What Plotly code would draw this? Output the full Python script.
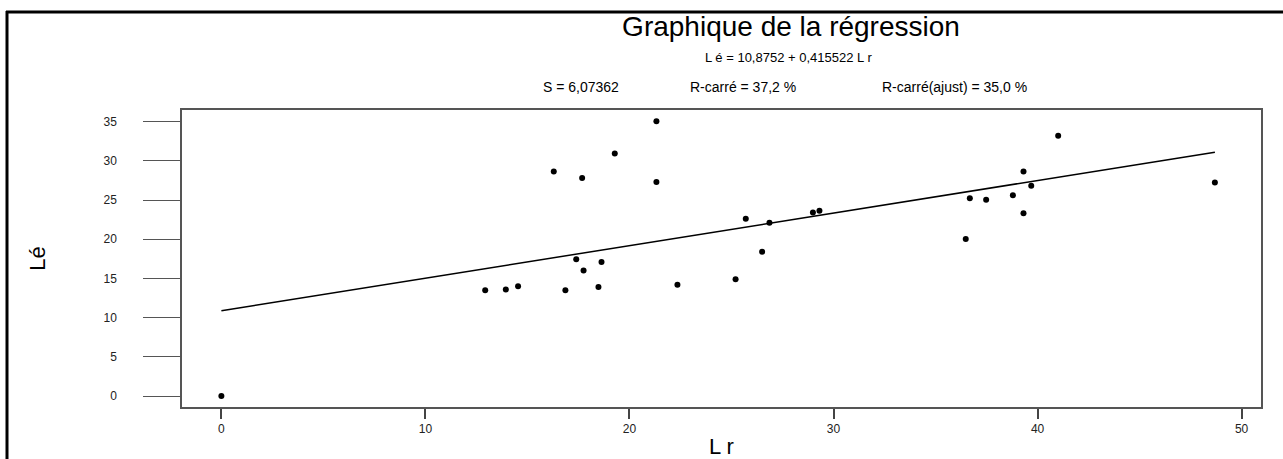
import plotly.graph_objects as go

# ---- data ----
L_r = [0, 12.93, 13.94, 14.54, 16.29, 17.68, 19.28, 21.32, 21.32, 17.39,
       18.63, 17.75, 16.86, 18.48, 22.35, 25.20, 25.70, 26.86, 26.50, 28.99,
       29.31, 41.01, 39.31, 39.69, 48.69, 36.68, 37.48, 38.79, 39.31, 36.48]
L_e = [0, 13.49, 13.60, 14.00, 28.64, 27.83, 30.93, 35.04, 27.32, 17.44,
       17.10, 16.00, 13.49, 13.91, 14.21, 14.89, 22.61, 22.10, 18.41, 23.42,
       23.63, 33.22, 28.64, 26.82, 27.24, 25.24, 25.03, 25.62, 23.33, 20.02]
intercept = 10.8752
slope = 0.415522
x_ticks = [0, 10, 20, 30, 40, 50]
y_ticks = [0, 5, 10, 15, 20, 25, 30, 35]

title = "Graphique de la régression"
equation = "L é = 10,8752 + 0,415522 L r"
stats = ["S = 6,07362", "R-carré = 37,2 %", "R-carré(ajust) = 35,0 %"]

# ---- layout geometry (pixels) ----
W, H = 1283, 459
PL, PR, PT, PB = 182, 1261, 110, 407
FONT = "Liberation Sans, Arial, sans-serif"


def px(xp):
    return (xp - PL) / (PR - PL)


def py(yp):
    return (PB - yp) / (PB - PT)


line_x = [min(L_r), max(L_r)]
line_y = [intercept + slope * v for v in line_x]

fig = go.Figure()
fig.add_trace(go.Scatter(x=line_x, y=line_y, mode="lines",
                         line=dict(color="black", width=1.5), hoverinfo="skip"))
fig.add_trace(go.Scatter(x=L_r, y=L_e, mode="markers",
                         marker=dict(color="black", size=6)))

fig.update_layout(
    width=W, height=H, showlegend=False,
    plot_bgcolor="white", paper_bgcolor="white",
    margin=dict(l=PL, r=W - PR, t=PT, b=H - PB, autoexpand=False),
    font=dict(family=FONT, color="black"),
    title=dict(text=title, x=791 / W, xanchor="center", xref="container",
               y=1 - 26 / H, yanchor="middle", yref="container",
               automargin=False,
               font=dict(size=28, family=FONT, color="black")),
)

fig.update_xaxes(range=[-1.93, 50.95], tickvals=x_ticks, ticks="outside",
                 ticklen=10, tickcolor="#444", tickwidth=1.5, automargin=False,
                 showgrid=False, zeroline=False, showline=True, linecolor="#555",
                 linewidth=1.5, mirror=True, tickfont=dict(size=12, color="#222"),
                 title=dict(text="L r", font=dict(size=22), standoff=6))
fig.update_yaxes(range=[-1.40, 36.49], tickvals=y_ticks, ticks="outside",
                 ticklen=37, tickcolor="#555", tickwidth=1.2, ticklabelstandoff=24,
                 automargin=False,
                 showgrid=False, zeroline=False, showline=True, linecolor="#555",
                 linewidth=1.5, mirror=True, tickfont=dict(size=12, color="#222"),
                 title=dict(text="Lé", font=dict(size=22), standoff=52))

# subtitle lines
fig.add_annotation(text=equation, x=px(788), y=py(58), xref="paper", yref="paper",
                   showarrow=False, xanchor="center", yanchor="middle",
                   font=dict(size=13, family=FONT, color="black"))
for s, cx in zip(stats, [581, 743, 954]):
    fig.add_annotation(text=s, x=px(cx), y=py(87), xref="paper", yref="paper",
                       showarrow=False, xanchor="center", yanchor="middle",
                       font=dict(size=14, family=FONT, color="black"))

# outer frame (top and left)
fig.add_shape(type="line", xref="paper", yref="paper",
              x0=px(6), y0=py(12), x1=px(W + 5), y1=py(12),
              line=dict(color="black", width=3))
fig.add_shape(type="line", xref="paper", yref="paper",
              x0=px(7), y0=py(11), x1=px(7), y1=py(H + 5),
              line=dict(color="black", width=3))

fig.write_html("out.html")
